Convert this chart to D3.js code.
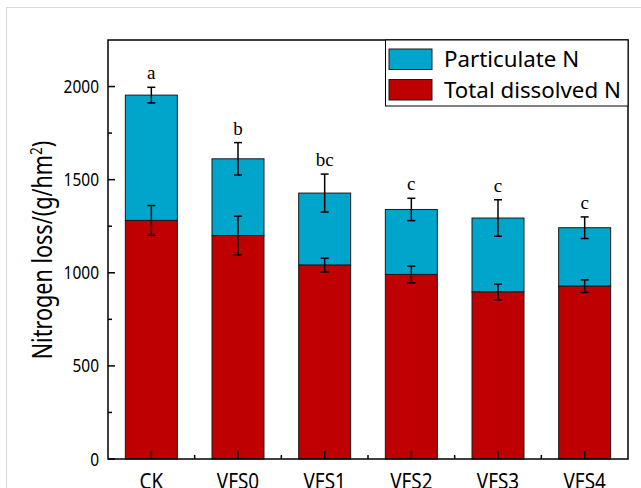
<!DOCTYPE html>
<html lang="en">
<head>
    <meta charset="UTF-8">
    <title>Nitrogen loss</title>
    <style>
        body { margin: 0; background: #fff; }
        svg { display: block; }
        .tick-label { font-family: "Noto Sans", sans-serif; font-size: 18px; fill: #000; }
        .cat-label { font-family: "Noto Sans", sans-serif; font-size: 22px; fill: #000; }
        .sig { font-family: "Liberation Serif", "Times New Roman", serif; font-size: 19px; fill: #000; }
        .legend-text { font-family: "Noto Sans", sans-serif; font-size: 22.3px; fill: #000; }
    </style>
</head>
<body>
    <div id="chart"></div>

    <script src="https://d3js.org/d3.v7.min.js"></script>
    <script>
        // data
        const groups = ["CK", "VFS0", "VFS1", "VFS2", "VFS3", "VFS4"];
        const dissolved = [1281, 1200, 1041, 991, 897, 928];
        const dissolvedErr = [80, 104, 37, 45, 42, 34];
        const totalN = [1954, 1612, 1428, 1340, 1294, 1242];
        const totalErr = [42, 87, 102, 60, 98, 58];
        const letters = ["a", "b", "bc", "c", "c", "c"];
        const yTicks = [0, 500, 1000, 1500, 2000];
        const legendItems = ["Particulate N", "Total dissolved N"];

        const width = 641;
        const height = 488;
        const margin = { top: 40, right: 13, bottom: 29, left: 108 };
        const blue = "#00a5cb";
        const red = "#be0000";
        const squeeze = 0.86; // the original font is narrow

        const svg = d3.select("#chart")
            .append("svg")
            .attr("width", width)
            .attr("height", height);

        // faint outer frame of the figure
        svg.append("rect")
            .attr("x", 6.5).attr("y", 7.5)
            .attr("width", width).attr("height", height)
            .attr("fill", "none")
            .attr("stroke", "#d9d9d9");

        const x = d3.scaleBand()
            .domain(groups)
            .range([margin.left, width - margin.right])
            .paddingInner(0.4)
            .paddingOuter(0.2);

        const y = d3.scaleLinear()
            .domain([0, 2250])
            .range([height - margin.bottom, margin.top]);

        const rows = groups.map((g, i) => ({
            g: g,
            td: dissolved[i],
            tdErr: dissolvedErr[i],
            tot: totalN[i],
            totErr: totalErr[i],
            letter: letters[i]
        }));

        // particulate part (stacked on top)
        svg.selectAll(".bar-pn")
            .data(rows)
            .enter().append("rect")
            .attr("x", d => x(d.g))
            .attr("y", d => y(d.tot))
            .attr("width", x.bandwidth())
            .attr("height", d => y(d.td) - y(d.tot))
            .attr("fill", blue)
            .attr("stroke", "#1a1a1a")
            .attr("stroke-width", 1);

        // dissolved part
        svg.selectAll(".bar-td")
            .data(rows)
            .enter().append("rect")
            .attr("x", d => x(d.g))
            .attr("y", d => y(d.td))
            .attr("width", x.bandwidth())
            .attr("height", d => y(0) - y(d.td))
            .attr("fill", red)
            .attr("stroke", "#1a1a1a")
            .attr("stroke-width", 1);

        function errorBars(val, err) {
            const gEb = svg.append("g").attr("stroke", "#000").attr("stroke-width", 1.5);
            rows.forEach(d => {
                const cx = x(d.g) + x.bandwidth() / 2;
                const y0 = y(d[val] + d[err]);
                const y1 = y(d[val] - d[err]);
                gEb.append("line").attr("x1", cx).attr("x2", cx).attr("y1", y0).attr("y2", y1);
                gEb.append("line").attr("x1", cx - 4).attr("x2", cx + 4).attr("y1", y0).attr("y2", y0);
                gEb.append("line").attr("x1", cx - 4).attr("x2", cx + 4).attr("y1", y1).attr("y2", y1);
            });
        }
        errorBars("td", "tdErr");
        errorBars("tot", "totErr");

        // significance letters
        svg.selectAll(".sig")
            .data(rows)
            .enter().append("text")
            .attr("class", "sig")
            .attr("x", d => x(d.g) + x.bandwidth() / 2)
            .attr("y", d => y(d.tot + d.totErr) - 8)
            .attr("text-anchor", "middle")
            .text(d => d.letter);

        // frame
        svg.append("rect")
            .attr("x", margin.left)
            .attr("y", margin.top)
            .attr("width", width - margin.right - margin.left)
            .attr("height", y(0) - margin.top)
            .attr("fill", "none")
            .attr("stroke", "#000")
            .attr("stroke-width", 1.5);

        // y axis ticks (inside)
        const yMinor = d3.range(250, 2250, 500);
        svg.selectAll(".ytick")
            .data(yTicks)
            .enter().append("line")
            .attr("x1", margin.left).attr("x2", margin.left + 7)
            .attr("y1", d => y(d)).attr("y2", d => y(d))
            .attr("stroke", "#000").attr("stroke-width", 1.5);
        svg.selectAll(".yminor")
            .data(yMinor)
            .enter().append("line")
            .attr("x1", margin.left).attr("x2", margin.left + 4)
            .attr("y1", d => y(d)).attr("y2", d => y(d))
            .attr("stroke", "#000").attr("stroke-width", 1.5);
        svg.selectAll(".ylabel")
            .data(yTicks)
            .enter().append("text")
            .attr("class", "tick-label")
            .attr("transform", d => `translate(${margin.left - 9},${y(d) + 6.5}) scale(${squeeze},1)`)
            .attr("text-anchor", "end")
            .text(d => d);

        // x axis ticks (inside)
        svg.selectAll(".xtick")
            .data(groups)
            .enter().append("line")
            .attr("x1", d => x(d) + x.bandwidth() / 2).attr("x2", d => x(d) + x.bandwidth() / 2)
            .attr("y1", y(0)).attr("y2", y(0) - 8)
            .attr("stroke", "#000").attr("stroke-width", 1.5);
        svg.selectAll(".xminor")
            .data(groups.slice(1))
            .enter().append("line")
            .attr("x1", d => x(d) - x.step() * 0.2).attr("x2", d => x(d) - x.step() * 0.2)
            .attr("y1", y(0)).attr("y2", y(0) - 4)
            .attr("stroke", "#000").attr("stroke-width", 1.5);
        svg.selectAll(".xlabel")
            .data(groups)
            .enter().append("text")
            .attr("class", "cat-label")
            .attr("transform", d => `translate(${x(d) + x.bandwidth() / 2},${y(0) + 30}) scale(${squeeze},1)`)
            .attr("text-anchor", "middle")
            .text(d => d);

        // y title
        const title = svg.append("text")
            .attr("transform", `translate(52,250) rotate(-90) scale(0.8,1)`)
            .attr("text-anchor", "middle")
            .style("font-family", "Noto Sans, sans-serif")
            .style("font-size", "27px");
        title.append("tspan").text("Nitrogen loss/(g/hm");
        title.append("tspan").attr("dy", -10).style("font-size", "17px").text("2");
        title.append("tspan").attr("dy", 10).text(")");

        // legend
        const lg = svg.append("g");
        lg.append("rect")
            .attr("x", 385.5).attr("y", margin.top)
            .attr("width", width - margin.right - 385.5)
            .attr("height", 66)
            .attr("fill", "#fff")
            .attr("stroke", "#000")
            .attr("stroke-width", 1);
        legendItems.forEach((name, i) => {
            lg.append("rect")
                .attr("x", 389).attr("y", 49 + i * 30.5)
                .attr("width", 43).attr("height", 20.5)
                .attr("fill", i === 0 ? blue : red)
                .attr("stroke", "#1a1a1a");
            lg.append("text")
                .attr("class", "legend-text")
                .attr("x", 444)
                .attr("y", 67 + i * 30.5)
                .text(name);
        });
    </script>
</body>
</html>
